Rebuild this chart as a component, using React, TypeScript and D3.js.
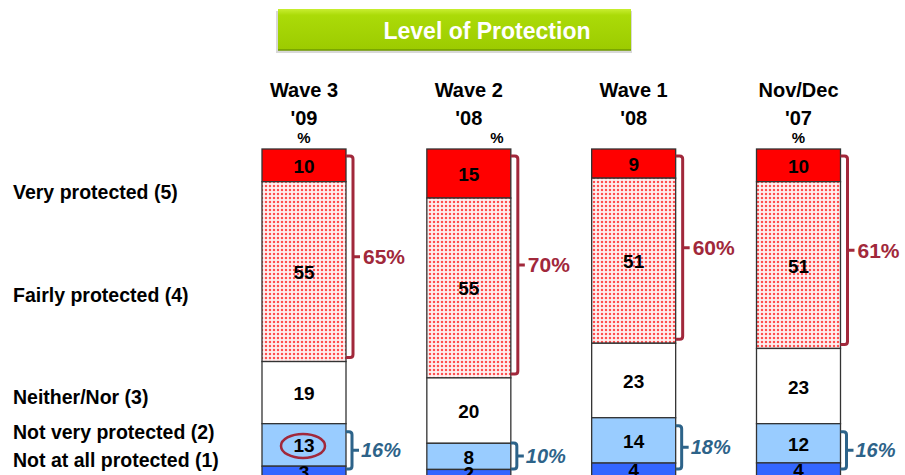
import * as d3 from "d3";

const waveNames = ["Wave 3", "Wave 2", "Wave 1", "Nov/Dec"];
const waveYears = ["'09", "'08", "'08", "'07"];
const categories = [
  "Very protected (5)",
  "Fairly protected (4)",
  "Neither/Nor (3)",
  "Not very protected (2)",
  "Not at all protected (1)",
];
const veryProtected = [10, 15, 9, 10];
const fairlyProtected = [55, 55, 51, 51];
const neitherNor = [19, 20, 23, 23];
const notVeryProtected = [13, 8, 14, 12];
const notAtAllProtected = [3, 2, 4, 4];
const top2Totals = [65, 70, 60, 61];
const bottom2Totals = [16, 10, 18, 16];

const W = 905;
const H = 475;
const FONT = "'Liberation Sans', Arial, sans-serif";
const RED_DARK = "#a1283b";
const BLUE_DARK = "#2d6389";

// segment fills, top to bottom
const fills = ["#ff0000", "url(#dots)", "#ffffff", "#99ccff", "#3366ff"];

function bracketPath(x0: number, x1: number, y0: number, y1: number, tick: number) {
  const r = 3;
  const ym = (y0 + y1) / 2;
  return (
    `M${x0},${y0} L${x1 - r},${y0} Q${x1},${y0} ${x1},${y0 + r} ` +
    `L${x1},${y1 - r} Q${x1},${y1} ${x1 - r},${y1} L${x0},${y1} ` +
    `M${x1},${ym} L${x1 + tick},${ym}`
  );
}

export default function App() {
  const x = d3.scalePoint<string>().domain(waveNames).range([304, 798.5]);
  const barW = 84;

  const series = [veryProtected, fairlyProtected, neitherNor, notVeryProtected, notAtAllProtected];
  const stacked = waveNames.map((_, i) => {
    let acc = 0;
    const segs = series.map((s) => {
      const y0 = acc;
      acc += s[i];
      return { y0, y1: acc, v: s[i] };
    });
    // each bar stretched to its own total (rounding)
    const y = d3.scaleLinear().domain([0, acc]).range([149, 476]);
    return { segs, y };
  });

  const labelY = [199, 302, 404, 439, 467];
  const pctDx = [0, 28, null, 0];

  return (
    <svg
      width={W}
      height={H}
      style={{ position: "absolute", left: 0, top: 0, background: "#fff" }}
      fontFamily={FONT}
    >
      <defs>
        <pattern id="dots" width="4" height="4" patternUnits="userSpaceOnUse">
          <rect width="4" height="4" fill="#ffffff" />
          <rect x="0.5" y="0.5" width="3" height="3" fill="#ffc4c4" />
          <rect x="1" y="1" width="2" height="2" fill="#ff5050" />
        </pattern>
        <linearGradient id="titleGrad" x1="0" y1="0" x2="0" y2="1">
          <stop offset="0" stopColor="#c8ee30" />
          <stop offset="0.15" stopColor="#abdb08" />
          <stop offset="1" stopColor="#9ccb00" />
        </linearGradient>
      </defs>

      {/* title */}
      <rect x={276} y={11} width={356} height={42} fill="#d8d8d8" />
      <rect x={278} y={9} width={353} height={41} fill="url(#titleGrad)" />
      <line x1={278} x2={631} y1={50} y2={50} stroke="#6f9a00" strokeWidth={1.5} />
      <text x={487} y={39} textAnchor="middle" fill="#fff" fontWeight="bold" fontSize={23}>
        Level of Protection
      </text>

      {/* row labels */}
      {categories.map((c, i) => (
        <text key={c} x={13} y={labelY[i]} fontWeight="bold" fontSize={19.5} fill="#000">
          {c}
        </text>
      ))}

      {waveNames.map((w, i) => {
        const cx = x(w)!;
        const left = cx - barW / 2;
        const right = cx + barW / 2;
        const { segs, y } = stacked[i];
        const top = y(segs[0].y0);
        const t0 = top + 7;
        const t1 = y(segs[1].y1) - 4;
        const b0 = Math.min(y(segs[3].y0) + 8, 443);
        const b1 = 469;
        return (
          <g key={w}>
            <text x={cx} y={97} textAnchor="middle" fontWeight="bold" fontSize={20}>
              {w}
            </text>
            <text x={cx} y={125} textAnchor="middle" fontWeight="bold" fontSize={20}>
              {waveYears[i]}
            </text>
            {pctDx[i] !== null && (
              <text x={cx + (pctDx[i] as number)} y={143} textAnchor="middle" fontWeight="bold" fontSize={15}>
                %
              </text>
            )}

            {segs.map((s, j) => (
              <rect
                key={j}
                x={left}
                y={y(s.y0)}
                width={barW}
                height={y(s.y1) - y(s.y0)}
                fill={fills[j]}
                stroke="#333"
                strokeWidth={1.3}
              />
            ))}
            {segs.map((s, j) => (
              <text
                key={"t" + j}
                x={cx}
                y={(y(s.y0) + y(s.y1)) / 2 + 1}
                textAnchor="middle"
                dominantBaseline="central"
                fontWeight="bold"
                fontSize={19}
                fill="#000"
              >
                {s.v}
              </text>
            ))}

            {/* top-2 bracket */}
            <path d={bracketPath(right, right + 7, t0, t1, 7)} fill="none" stroke={RED_DARK} strokeWidth={3} />
            <text
              x={right + 17}
              y={(t0 + t1) / 2}
              dominantBaseline="central"
              fontWeight="bold"
              fontSize={21}
              fill={RED_DARK}
            >
              {top2Totals[i]}%
            </text>

            {/* bottom-2 bracket */}
            <path d={bracketPath(right, right + 6, b0, b1, 7)} fill="none" stroke={BLUE_DARK} strokeWidth={3} />
            <text
              x={right + 15}
              y={(b0 + b1) / 2}
              dominantBaseline="central"
              fontWeight="bold"
              fontStyle="italic"
              fontSize={20}
              fill={BLUE_DARK}
            >
              {bottom2Totals[i]}%
            </text>

            {i === 0 && (
              <ellipse
                cx={cx - 1}
                cy={(y(segs[3].y0) + y(segs[3].y1)) / 2 + 1}
                rx={22}
                ry={12}
                fill="none"
                stroke={RED_DARK}
                strokeWidth={2.5}
              />
            )}
          </g>
        );
      })}
    </svg>
  );
}
